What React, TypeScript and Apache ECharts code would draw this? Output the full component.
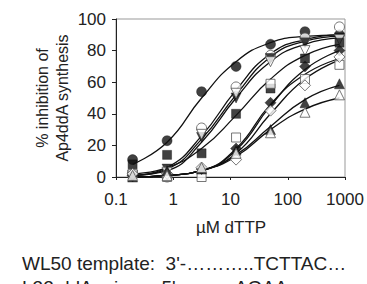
import React, { useEffect, useRef } from "react";
import * as echarts from "echarts";

const doses = [0.195, 0.78, 3.125, 12.5, 50, 200, 800];
const xTicks = [0.1, 1, 10, 100, 1000];

// measured points
const filledCircle = [11, 23, 54, 70, 84, 92, 90];
const openCircle = [2, 0, 31, 57, 77, 88, 95];
const filledDown = [1, 5, 25, 50, 75, 85, 88];
const openDown = [0, 3, 27, 53, 73, 80, 87];
const filledSquare = [8, 14, 15, 40, 56, 75, 85];
const openSquare = [2, 0, 0, 25, 59, 62, 71];
const filledDiamond = [1, 2, 5, 18, 47, 70, 80];
const openDiamond = [2, 2, 6, 11, 42, 58, 76];
const filledTri = [0, 4, 5, 17, 30, 47, 59];
const openTri = [1, 1, 6, 15, 28, 41, 52];

// fitted curves at the same doses
const fitFilledCircle = [8, 22, 50, 73, 85, 89, 90];
const fitOpenCircle = [1, 6, 26, 55, 78, 87, 90];
const fitFilledDown = [1, 5, 24, 52, 76, 86, 89];
const fitOpenDown = [1, 4, 22, 50, 73, 84, 88];
const fitFilledSquare = [2, 6, 18, 39, 62, 77, 84];
const fitOpenSquare = [0, 1, 4, 18, 46, 65, 75];
const fitFilledDiamond = [0, 1, 4, 17, 45, 68, 80];
const fitOpenDiamond = [0, 1, 4, 15, 40, 62, 74];
const fitFilledTri = [0, 1, 4, 14, 32, 49, 58];
const fitOpenTri = [0, 1, 4, 13, 30, 43, 50];

const FONT = "'Liberation Sans', Arial, sans-serif";

type Def = { pts: number[]; fit: number[]; symbol: string; filled: boolean; rotate?: number; size?: number };

const defs: Def[] = [
  { pts: filledCircle, fit: fitFilledCircle, symbol: "circle", filled: true },
  { pts: openCircle, fit: fitOpenCircle, symbol: "circle", filled: false },
  { pts: filledDown, fit: fitFilledDown, symbol: "triangle", filled: true, rotate: 180 },
  { pts: openDown, fit: fitOpenDown, symbol: "triangle", filled: false, rotate: 180 },
  { pts: filledSquare, fit: fitFilledSquare, symbol: "rect", filled: true, size: 9 },
  { pts: openSquare, fit: fitOpenSquare, symbol: "rect", filled: false, size: 9 },
  { pts: filledDiamond, fit: fitFilledDiamond, symbol: "diamond", filled: true, size: 11 },
  { pts: openDiamond, fit: fitOpenDiamond, symbol: "diamond", filled: false, size: 11 },
  { pts: filledTri, fit: fitFilledTri, symbol: "triangle", filled: true },
  { pts: openTri, fit: fitOpenTri, symbol: "triangle", filled: false },
];

export default function App() {
  const ref = useRef<HTMLDivElement>(null);
  useEffect(() => {
    const chart = echarts.init(ref.current!, undefined, { renderer: "svg" });
    const series: any[] = [];
    defs.forEach((d) => {
      series.push({
        type: "line",
        data: doses.map((x, i) => [x, d.fit[i]]),
        smooth: 0.5,
        showSymbol: false,
        symbol: "none",
        lineStyle: { color: "#111", width: 1.3 },
        z: 2,
      });
    });
    defs.forEach((d) => {
      series.push({
        type: "scatter",
        data: doses.map((x, i) => [x, d.pts[i]]),
        symbol: d.symbol,
        symbolRotate: d.rotate || 0,
        symbolSize: d.size || 10,
        itemStyle: d.filled
          ? { color: "#111", borderColor: "#111", borderWidth: 0.5 }
          : { color: "#fff", borderColor: "#555", borderWidth: 1 },
        z: 3,
      });
    });
    chart.setOption({
      animation: false,
      grid: { left: 116, right: 22, top: 19, bottom: 107, show: true, borderColor: "#999", borderWidth: 1 },
      xAxis: {
        type: "log",
        logBase: 10,
        min: xTicks[0],
        max: xTicks[xTicks.length - 1],
        axisLine: { lineStyle: { color: "#222", width: 1 } },
        axisTick: { show: true, inside: false, length: 3, lineStyle: { color: "#222" } },
        axisLabel: {
          color: "#222",
          fontFamily: FONT,
          fontSize: 17,
          margin: 14,
          formatter: (v: number) => String(v),
        },
        splitLine: { show: false },
        minorTick: { show: false },
      },
      yAxis: {
        type: "value",
        min: 0,
        max: 100,
        interval: 20,
        axisLine: { show: true, lineStyle: { color: "#222", width: 1 } },
        axisTick: { show: true, length: 4, lineStyle: { color: "#222" } },
        axisLabel: { color: "#222", fontFamily: FONT, fontSize: 17, margin: 10 },
        splitLine: { show: false },
      },
      graphic: [
        {
          type: "text",
          x: 52,
          y: 98,
          rotation: Math.PI / 2,
          style: {
            text: "% inhibition of\nAp4ddA synthesis",
            fontFamily: FONT,
            fontSize: 16,
            lineHeight: 20,
            fill: "#222",
            align: "center",
            verticalAlign: "middle",
          },
        },
        {
          type: "text",
          x: 231,
          y: 227,
          style: {
            text: "\u00b5M dTTP",
            fontFamily: FONT,
            fontSize: 17,
            fill: "#222",
            align: "center",
            verticalAlign: "middle",
          },
        },
        {
          type: "text",
          x: 22,
          y: 263,
          style: {
            text: "WL50 template:  3'-\u2026\u2026\u2026..TCTTAC\u2026",
            fontFamily: FONT,
            fontSize: 19,
            fill: "#222",
            align: "left",
            verticalAlign: "middle",
          },
        },
        {
          type: "text",
          x: 22,
          y: 287,
          style: {
            text: "L32 ddA primer: 5'-..........AGAA",
            fontFamily: FONT,
            fontSize: 19,
            fill: "#222",
            align: "left",
            verticalAlign: "middle",
          },
        },
      ],
      series,
    });
    return () => chart.dispose();
  }, []);
  return (
    <div
      ref={ref}
      style={{ position: "fixed", left: 0, top: 0, width: 367, height: 284, background: "#fff" }}
    />
  );
}
